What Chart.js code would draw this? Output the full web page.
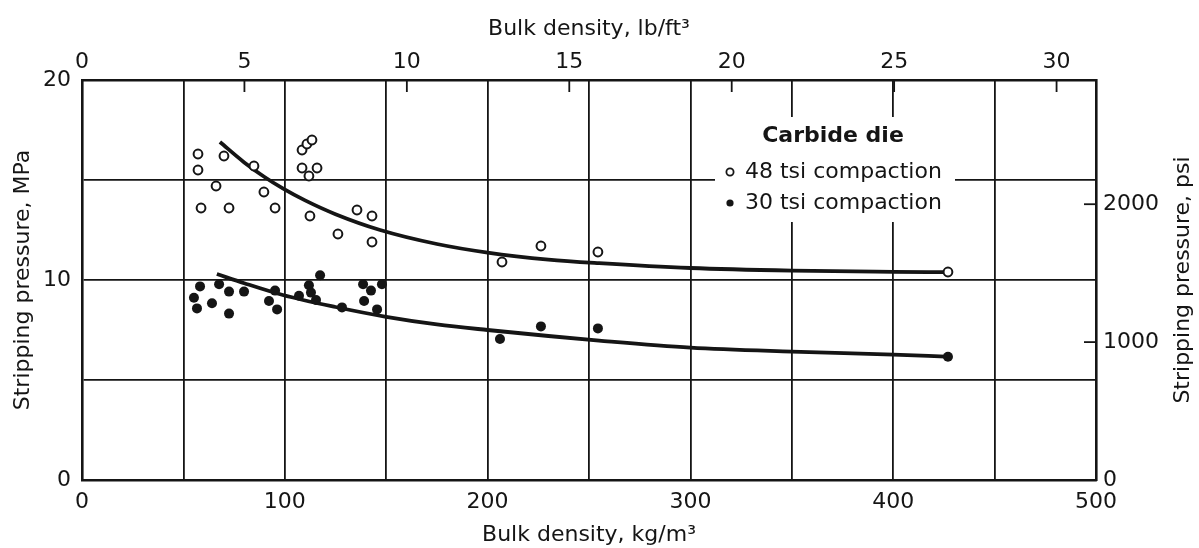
<!DOCTYPE html>
<html><head><meta charset="utf-8">
<script src="https://cdn.jsdelivr.net/npm/chart.js@4/dist/chart.umd.min.js"></script>
<style>html,body{margin:0;padding:0;background:#fff}canvas{display:block}</style>
</head><body>
<canvas id="c" width="1199" height="548"></canvas>
<script>
// ---- data ----
const legendTitle = 'Carbide die';
const label48 = '48 tsi compaction';
const label30 = '30 tsi compaction';

// 48 tsi compaction (open circles): bulk density kg/m3, stripping pressure MPa
const density48  = [57.2, 57.2, 70.0, 84.8, 66.1, 89.7, 58.7, 72.5, 95.2, 108.5, 110.9, 113.4, 108.5, 115.9, 111.9, 112.4, 126.2, 135.6, 143.0, 143.0, 207.1, 226.3, 254.4, 427.0];
const pressure48 = [16.3, 15.5, 16.2, 15.7, 14.7, 14.4, 13.6, 13.6, 13.6, 16.5, 16.8, 17.0, 15.6, 15.6, 15.2, 13.2, 12.3, 13.5, 13.2, 11.9, 10.9, 11.7, 11.4, 10.4];

// 30 tsi compaction (filled circles)
const density30  = [58.2, 55.2, 56.7, 64.1, 67.6, 72.5, 72.5, 79.9, 92.2, 95.2, 96.2, 107.0, 111.9, 112.9, 115.4, 117.4, 128.2, 138.6, 142.5, 139.1, 145.5, 147.9, 206.1, 226.3, 254.4, 427.0];
const pressure30 = [9.68, 9.11, 8.58, 8.84, 9.79, 9.42, 8.32, 9.42, 8.95, 9.47, 8.53, 9.21, 9.74, 9.37, 9.00, 10.24, 8.63, 9.79, 9.47, 8.95, 8.53, 9.79, 7.05, 7.68, 7.58, 6.16];

// fitted curves
const fitDensity48  = [68, 80, 90, 99, 110, 125, 147, 175, 200, 230, 255, 300, 350, 400, 426];
const fitPressure48 = [16.9, 15.88, 15.15, 14.58, 13.98, 13.29, 12.5, 11.8, 11.37, 11.02, 10.84, 10.6, 10.47, 10.41, 10.39];
const fitDensity30  = [66.5, 80, 99, 125, 150, 175, 200, 230, 255, 300, 350, 400, 426];
const fitPressure30 = [10.3, 9.84, 9.25, 8.65, 8.16, 7.78, 7.5, 7.2, 6.97, 6.62, 6.42, 6.27, 6.17];

// axes / ticks
const kgGrid   = [0, 50, 100, 150, 200, 250, 300, 350, 400, 450, 500];
const kgTicks  = [0, 100, 200, 300, 400, 500];
const lbTicks  = [0, 5, 10, 15, 20, 25, 30];
const mpaGrid  = [0, 5, 10, 15, 20];
const mpaTicks = [0, 10, 20];
const psiTicks = [0, 1000, 2000];
const titleBottom = 'Bulk density, kg/m\u00B3';
const titleTop    = 'Bulk density, lb/ft\u00B3';
const titleLeft   = 'Stripping pressure, MPa';
const titleRight  = 'Stripping pressure, psi';
const KG_PER_LB_FT3 = 16.0185;
const PSI_PER_MPA = 145.038;

const pts = (xs, ys) => xs.map((x, i) => ({x, y: ys[i]}));
const setTicks = list => s => { s.ticks = list.map(v => ({value: v})); };
const INK = '#151515';
const FONT = 'DejaVu Sans';

const overlay = {
  id: 'overlay',
  afterDatasetsDraw(chart) {
    const ctx = chart.ctx;
    const ca = chart.chartArea;
    const x2 = chart.scales.x2, y2 = chart.scales.y2;
    ctx.save();
    ctx.strokeStyle = INK; ctx.lineWidth = 1.8;
    x2.ticks.forEach(t => {
      if (t.value === 0) return;
      const px = x2.getPixelForValue(t.value);
      ctx.beginPath(); ctx.moveTo(px, ca.top); ctx.lineTo(px, ca.top + 12); ctx.stroke();
    });
    y2.ticks.forEach(t => {
      if (t.value === 0) return;
      const py = y2.getPixelForValue(t.value);
      ctx.beginPath(); ctx.moveTo(ca.right, py); ctx.lineTo(ca.right - 12, py); ctx.stroke();
    });
    // right axis title, reading bottom-to-top
    ctx.save();
    ctx.translate(y2.right - 16, (ca.top + ca.bottom) / 2);
    ctx.rotate(-Math.PI / 2);
    ctx.fillStyle = INK; ctx.textAlign = 'center'; ctx.textBaseline = 'middle';
    ctx.font = '22px "' + FONT + '"';
    ctx.fillText(titleRight, 0, 0);
    ctx.restore();
    // legend box
    const bx = ca.left + 633, by = ca.top + 37, bw = 240, bh = 105;
    ctx.fillStyle = '#fff';
    ctx.fillRect(bx, by, bw, bh);
    ctx.fillStyle = INK;
    ctx.textBaseline = 'middle';
    ctx.textAlign = 'center';
    ctx.font = 'bold 22px "' + FONT + '"';
    ctx.fillText(legendTitle, bx + 118, by + 19);
    ctx.textAlign = 'left';
    ctx.font = '22px "' + FONT + '"';
    const ds = chart.data.datasets;
    [0, 1].forEach((i, k) => {
      const yy = by + 55 + k * 31;
      ctx.beginPath();
      ctx.arc(bx + 15, yy, 3.6, 0, Math.PI * 2);
      if (ds[i].backgroundColor === '#ffffff') {
        ctx.fillStyle = '#fff'; ctx.fill(); ctx.lineWidth = 1.8; ctx.strokeStyle = INK; ctx.stroke();
      } else {
        ctx.fillStyle = INK; ctx.fill();
      }
      ctx.fillStyle = INK;
      ctx.fillText(ds[i].label, bx + 30, yy);
    });
    ctx.restore();
  }
};

const tickFont = { family: FONT, size: 22 };

new Chart(document.getElementById('c'), {
  type: 'scatter',
  data: {
    datasets: [
      { label: label48, data: pts(density48, pressure48), backgroundColor: '#ffffff', borderColor: INK, borderWidth: 2, pointRadius: 4.4, xAxisID: 'x', yAxisID: 'y', order: 1 },
      { label: label30, data: pts(density30, pressure30), backgroundColor: INK, borderColor: INK, borderWidth: 0, pointRadius: 5, xAxisID: 'x', yAxisID: 'y', order: 1 },
      { label: 'fit48', data: pts(fitDensity48, fitPressure48), showLine: true, borderColor: INK, borderWidth: 3.8, pointRadius: 0, cubicInterpolationMode: 'monotone', xAxisID: 'x', yAxisID: 'y', order: 2 },
      { label: 'fit30', data: pts(fitDensity30, fitPressure30), showLine: true, borderColor: INK, borderWidth: 3.8, pointRadius: 0, cubicInterpolationMode: 'monotone', xAxisID: 'x', yAxisID: 'y', order: 2 }
    ]
  },
  options: {
    responsive: false,
    animation: false,
    devicePixelRatio: 1,
    layout: { padding: 0 },
    plugins: { legend: { display: false }, tooltip: { enabled: false } },
    scales: {
      x: {
        type: 'linear', position: 'bottom', min: 0, max: 500,
        afterBuildTicks: setTicks(kgGrid),
        afterFit: s => { s.height = 68; },
        grid: { display: true, color: INK, lineWidth: 1.8, drawTicks: false },
        border: { display: true, color: INK, width: 2.6 },
        ticks: { autoSkip: false, maxRotation: 0, padding: 9, color: INK, font: tickFont,
                 callback: v => kgTicks.includes(v) ? String(v) : '' },
        title: { display: true, text: titleBottom, color: INK, font: tickFont, padding: { top: 0, bottom: 0 } }
      },
      x2: {
        type: 'linear', position: 'top', min: 0, max: 500 / KG_PER_LB_FT3,
        afterBuildTicks: setTicks(lbTicks),
        afterFit: s => { s.height = 80; },
        grid: { display: false, drawTicks: false },
        border: { display: true, color: INK, width: 2.6 },
        ticks: { autoSkip: false, maxRotation: 0, padding: 5, color: INK, font: tickFont,
                 callback: v => String(v) },
        title: { display: true, text: titleTop, color: INK, font: tickFont, padding: { top: 16, bottom: 0 } }
      },
      y: {
        type: 'linear', position: 'left', min: 0, max: 20,
        afterBuildTicks: setTicks(mpaGrid),
        afterFit: s => { s.width = 82; },
        grid: { display: true, color: INK, lineWidth: 1.8, drawTicks: false },
        border: { display: true, color: INK, width: 2.6 },
        ticks: { autoSkip: false, padding: 11, color: INK, font: tickFont,
                 callback: v => mpaTicks.includes(v) ? String(v) : '' },
        title: { display: true, text: titleLeft, color: INK, font: tickFont, padding: { top: 10, bottom: 0 } }
      },
      y2: {
        type: 'linear', position: 'right', min: 0, max: 20 * PSI_PER_MPA,
        afterBuildTicks: setTicks(psiTicks),
        afterFit: s => { s.width = 103; },
        grid: { display: false, drawTicks: false },
        border: { display: true, color: INK, width: 2.6 },
        ticks: { autoSkip: false, padding: 7, color: INK, font: tickFont,
                 callback: v => String(v) },
        title: { display: false, text: titleRight }
      }
    }
  },
  plugins: [overlay]
});
</script>
</body></html>
